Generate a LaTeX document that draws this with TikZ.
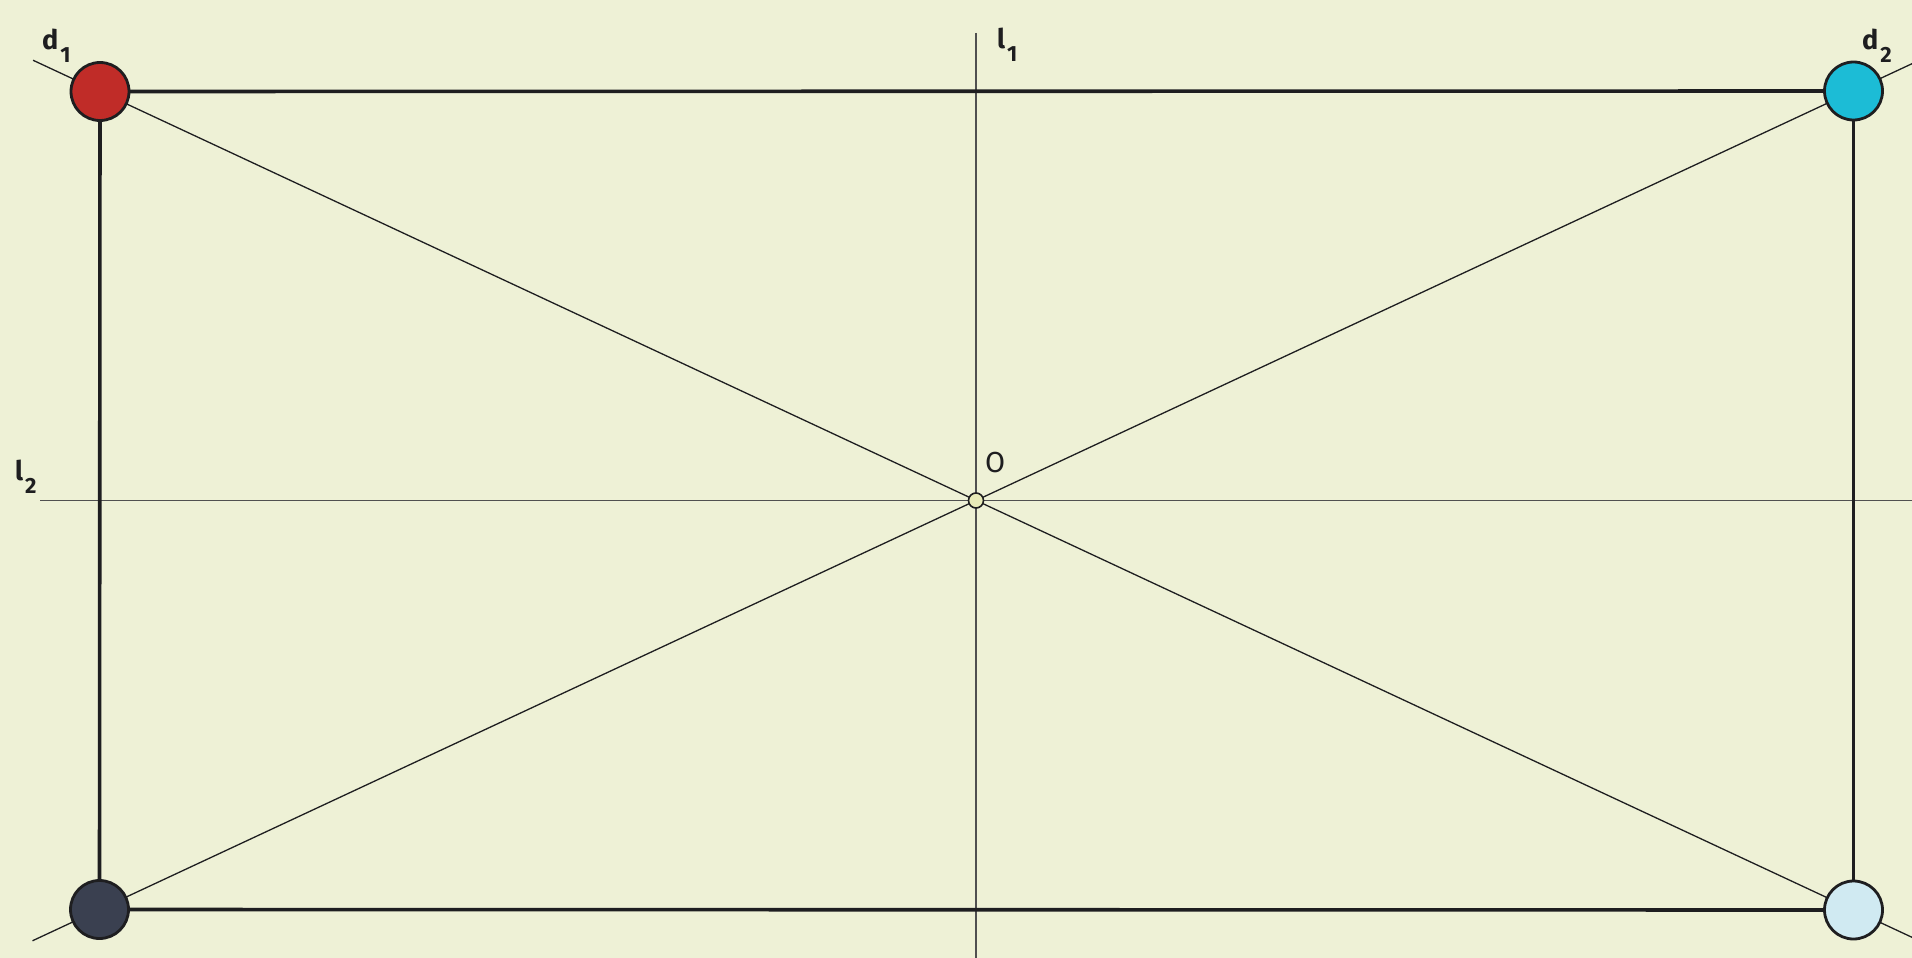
\documentclass[tikz,border=0pt]{standalone}
\usepackage{fontspec}
\setmainfont{Fira Sans}
\usetikzlibrary{backgrounds,calc}
\definecolor{bg}{RGB}{238,241,214}
\definecolor{cred}{RGB}{192,44,40}
\definecolor{ccyan}{RGB}{28,188,214}
\definecolor{cdark}{RGB}{58,64,80}
\definecolor{clight}{RGB}{208,234,242}
\definecolor{cO}{RGB}{232,235,184}
\definecolor{axis}{RGB}{80,80,80}
\definecolor{ink}{RGB}{30,30,32}
\tikzset{
  corner/.style={circle, draw=ink, line width=2.8pt, minimum size=58pt, inner sep=0pt},
  center/.style={circle, draw=ink, fill=cO, line width=1.6pt, minimum size=15pt, inner sep=0pt},
  side/.style={draw=ink, line width=3.6pt},
  diag/.style={draw=ink, line width=1.3pt},
  axisline/.style={draw=axis, line width=1.2pt},
  lbl/.style={anchor=base west, inner sep=0pt, text=ink, font=\fontsize{27}{30}\selectfont\bfseries},
  olbl/.style={anchor=base west, inner sep=0pt, text=ink, font=\fontsize{29}{32}\selectfont},
}
\newcommand{\lab}[2]{#1\kern2pt\raisebox{-13pt}{\fontsize{22}{24}\selectfont #2}}
\begin{document}
\begin{tikzpicture}[x=1pt,y=-1pt]
\useasboundingbox (0,0) rectangle (1912,958);
\node[corner, fill=cred] (tl) at (100,91.5) {};
\node[corner, fill=ccyan] (tr) at (1853.5,91) {};
\node[corner, fill=cdark] (bl) at (99.5,909.5) {};
\node[corner, fill=clight] (br) at (1853.5,910) {};
\node[center] (o) at (976,500.5) {};
\coordinate (l1top) at (976,33);
\coordinate (l1bot) at (976,958);
\coordinate (l2left) at (40,500.5);
\coordinate (l2right) at (1912,500.5);
\coordinate (d1a) at ($(tl.center)!-0.0382!(br.center)$);
\coordinate (d1b) at ($(tl.center)!1.0382!(br.center)$);
\coordinate (d2a) at ($(bl.center)!-0.0382!(tr.center)$);
\coordinate (d2b) at ($(bl.center)!1.0382!(tr.center)$);
\node[lbl] (d1lab) at (42,50) {\lab{d}{1}};
\node[lbl] (d2lab) at (1862,50) {\lab{d}{2}};
\node[lbl] (l1lab) at (997,49) {\lab{l}{1}};
\node[lbl] (l2lab) at (15,480) {\lab{l}{2}};
\node[olbl] (olab) at (985,472) {O};
\begin{scope}[on background layer]
\fill[bg] (0,0) rectangle (1912,958);
\clip (0,0) rectangle (1912,958);
\path[axisline] (l1top) -- (l1bot);
\path[axisline] (l2left) -- (l2right);
\path[diag] (d1a) -- (d1b);
\path[diag] (d2a) -- (d2b);
\path[side] (tl.center) -- (tr.center);
\path[side] (tr.center) -- (br.center);
\path[side] (br.center) -- (bl.center);
\path[side] (bl.center) -- (tl.center);
\end{scope}
\end{tikzpicture}
\end{document}
